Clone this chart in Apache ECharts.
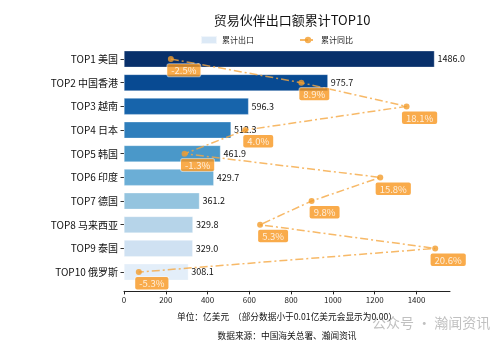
<!DOCTYPE html>
<html>
<head>
<meta charset="utf-8">
<script src="https://cdn.jsdelivr.net/npm/echarts@6/dist/echarts.min.js"></script>
<style>
  html, body { margin: 0; padding: 0; background: #fff; }
  #chart { width: 500px; height: 342px; }
</style>
</head>
<body>
<div id="chart"></div>
<script>
// Top 10 export partners: cumulative export value (100M USD) and YoY change (%)
const categories = ['TOP1 美国', 'TOP2 中国香港', 'TOP3 越南', 'TOP4 日本', 'TOP5 韩国',
                    'TOP6 印度', 'TOP7 德国', 'TOP8 马来西亚', 'TOP9 泰国', 'TOP10 俄罗斯'];
const exportValues = [1486.0, 975.7, 596.3, 512.3, 461.9, 429.7, 361.2, 329.8, 329.0, 308.1];
const yoyValues = [-2.5, 8.9, 18.1, 4.0, -1.3, 15.8, 9.8, 5.3, 20.6, -5.3];
const xTicks = [0, 200, 400, 600, 800, 1000, 1200, 1400];
// Blues ramp, darkest for the largest partner
const barColors = ['#08306b', '#084a92', '#1764ab', '#2e7ebc', '#4a98c9',
                   '#6baed6', '#94c4df', '#b6d4e9', '#cfe1f2', '#e3eef9'];

const FONT = '"Noto Sans CJK SC", "DejaVu Sans", sans-serif';

// value axis limits with a 5% margin past the largest bar
const xMax = Math.max(...exportValues) * 1.05;
// hidden axis for the YoY line, padded 5% on both sides of its data span
const yoyMin = Math.min(...yoyValues), yoyMaxV = Math.max(...yoyValues);
const yoyPad = (yoyMaxV - yoyMin) * 0.05;

const chart = echarts.init(document.getElementById('chart'));
chart.setOption({
  animation: false,
  textStyle: { fontFamily: FONT },
  title: {
    text: '贸易伙伴出口额累计TOP10',
    left: 287, top: 9, textAlign: 'center',
    textStyle: { fontFamily: FONT, fontSize: 13, fontWeight: 'normal', color: '#111' }
  },
  legend: {
    left: 195, top: 30,
    itemWidth: 16, itemHeight: 8, itemGap: 45,
    textStyle: { fontFamily: FONT, fontSize: 8, color: '#222' },
    data: [
      { name: '累计出口', icon: 'rect' },
      { name: '累计同比' }
    ]
  },
  grid: { left: 124, right: 50, top: 47.2, height: 236.7, containLabel: false },
  xAxis: [
    {
      type: 'value', min: 0, max: xMax, offset: 7,
      splitLine: { show: false },
      axisLine: { show: true, lineStyle: { color: '#222', width: 1 } },
      axisTick: { show: true, length: 3.5, lineStyle: { color: '#222' }, customValues: xTicks },
      axisLabel: {
        fontFamily: FONT, fontSize: 8, color: '#222', margin: 5, customValues: xTicks,
        formatter: v => String(v)
      }
    },
    {
      type: 'value', min: yoyMin - yoyPad, max: yoyMaxV + yoyPad, show: false,
      splitLine: { show: false }
    }
  ],
  yAxis: {
    type: 'category', data: categories, inverse: true,
    axisLine: { show: false },
    axisTick: { show: true, alignWithLabel: true, length: 3.5, lineStyle: { color: '#333' } },
    axisLabel: { fontFamily: FONT, fontSize: 10, color: '#111', margin: 6 },
    splitLine: { show: false }
  },
  series: [
    {
      name: '累计出口', type: 'bar', xAxisIndex: 0,
      barWidth: '70%',
      itemStyle: { color: '#dce9f6', borderColor: 'rgba(255,255,255,0.6)', borderWidth: 0.5 },
      data: exportValues.map((v, i) => ({ value: v, itemStyle: { color: barColors[i] } })),
      label: {
        show: true, position: 'right', distance: 3,
        fontFamily: FONT, fontSize: 9, color: '#111',
        formatter: p => p.value.toFixed(1)
      },
      z: 2
    },
    {
      name: '累计同比', type: 'line', xAxisIndex: 1,
      data: yoyValues.map((v, i) => [v, categories[i]]),
      encode: { x: 0, y: 1 },
      symbol: 'circle', symbolSize: 6,
      lineStyle: { color: '#f5a742', width: 1.5, type: [8, 3, 2, 3], opacity: 0.8 },
      itemStyle: { color: '#f39c2c', opacity: 0.8 },
      label: {
        show: true, position: 'bottom', distance: 2, offset: [13, 0],
        fontFamily: FONT, fontSize: 9.5, color: '#fff',
        backgroundColor: '#f7961e', borderColor: 'rgba(255,255,255,0.7)', borderWidth: 0.8,
        borderRadius: 2, padding: [2, 4, 1, 4],
        formatter: p => p.value[0].toFixed(1) + '%'
      },
      z: 5
    }
  ],
  graphic: [
    {
      type: 'text',
      style: {
        text: '单位：亿美元  （部分数据小于0.01亿美元会显示为0.00）',
        x: 287, textAlign: 'center',
        font: '8.7px ' + FONT, fill: '#111'
      },
      y: 312
    },
    {
      type: 'text',
      style: {
        text: '数据来源：中国海关总署、瀚闻资讯',
        x: 287, textAlign: 'center',
        font: '8.7px ' + FONT, fill: '#111'
      },
      y: 331
    },
    {
      type: 'text',
      style: {
        text: '公众号 · 瀚闻资讯',
        x: 372, y: 316,
        font: '14px ' + FONT, fill: 'rgba(140,140,140,0.55)'
      }
    }
  ]
});
</script>
</body>
</html>
